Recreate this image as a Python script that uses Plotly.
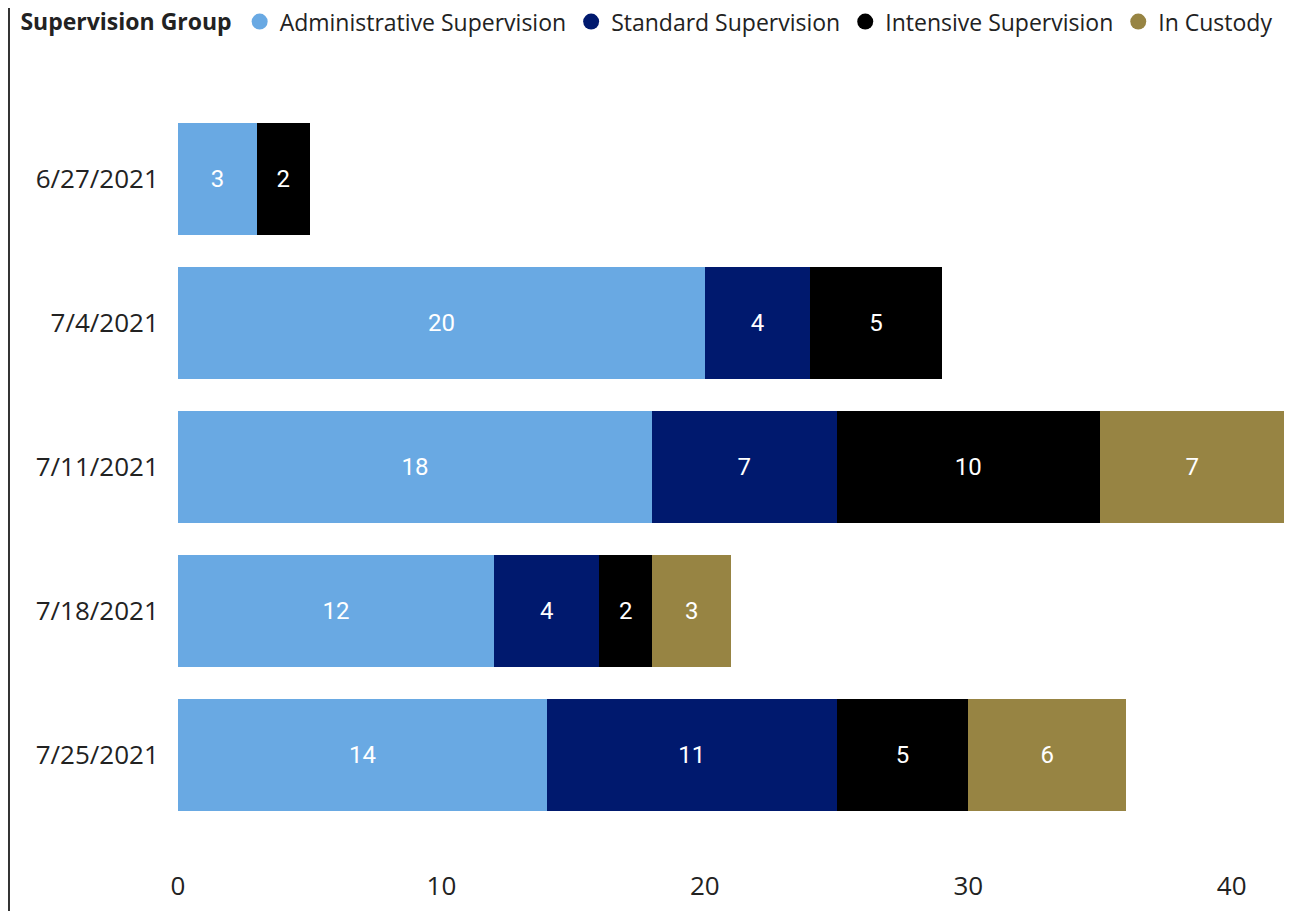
import plotly.graph_objects as go

weeks = ["6/27/2021", "7/4/2021", "7/11/2021", "7/18/2021", "7/25/2021"]
administrative = [3, 20, 18, 12, 14]
standard = [None, 4, 7, 4, 11]
intensive = [2, 5, 10, 2, 5]
in_custody = [None, None, 7, 3, 6]

series = [
    ("Administrative Supervision", administrative, "#69A9E3"),
    ("Standard Supervision", standard, "#00196E"),
    ("Intensive Supervision", intensive, "#000000"),
    ("In Custody", in_custody, "#978443"),
]

fig = go.Figure()
for name, vals, color in series:
    fig.add_trace(go.Bar(
        y=weeks, x=vals, orientation="h", name=name,
        marker={"color": color, "line": {"width": 0}},
        text=vals, textposition="inside", insidetextanchor="middle",
        textfont={"color": "white", "size": 24, "family": "Roboto"},
        showlegend=False, hoverinfo="x+name",
    ))
    # circle markers for the legend
    fig.add_trace(go.Scatter(
        x=[None], y=[None], mode="markers", name=name,
        marker={"color": color, "size": 20, "symbol": "circle"},
    ))

# note: the page body adds an 8px offset, margins below account for it
fig.update_layout(
    width=1297, height=911,
    barmode="stack", bargap=0.22,
    plot_bgcolor="white", paper_bgcolor="white",
    font={"family": "Open Sans", "size": 26, "color": "#222222"},
    margin={"l": 170, "r": 18, "t": 99, "b": 49},
    legend={
        "orientation": "h", "xref": "container", "yref": "container",
        "x": 0.008, "y": 0.985, "xanchor": "left", "yanchor": "middle",
        "title": {"text": "<b>Supervision Group</b>", "font": {"size": 23}},
        "font": {"size": 23}, "itemwidth": 30,
        "traceorder": "normal", "tracegroupgap": 0,
    },
    shapes=[{
        "type": "line", "xref": "paper", "yref": "paper",
        "x0": -0.1524, "x1": -0.1524, "y0": -0.07, "y1": 1.14,
        "line": {"color": "#333333", "width": 2},
    }],
)

fig.update_xaxes(
    range=[0, 42.1], dtick=10, showgrid=False, zeroline=False,
    showline=False, ticks="", ticklabelstandoff=-2,
    tickfont={"size": 26}, automargin=False,
)
fig.update_yaxes(
    range=[4.8, -0.5], showgrid=False, zeroline=False, showline=False,
    ticks="outside", ticklen=13, tickcolor="rgba(0,0,0,0)",
    tickfont={"size": 26}, automargin=False,
)

fig.write_html("out.html")
